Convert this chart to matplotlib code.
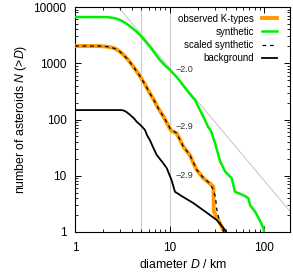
import matplotlib
matplotlib.use("Agg")
import matplotlib.pyplot as plt
import numpy as np

plt.rcParams['font.family'] = ['Liberation Sans', 'DejaVu Sans']
plt.rcParams['mathtext.fontset'] = 'custom'
plt.rcParams['mathtext.rm'] = 'Liberation Sans'
plt.rcParams['mathtext.it'] = 'Liberation Sans:italic'

# observed K-types (cumulative)
d_obs = [1, 1.8, 2.1, 2.4, 2.7, 3.0, 3.3, 3.66, 4.14, 4.87, 5.5, 6.2, 6.9, 7.6, 8.3,
         8.97, 10.1, 10.6, 11.9, 14.0, 16.5, 17.9, 19.4, 22.8, 27.9, 29.1, 29.4,
         32.9, 37.1, 38.6]
n_obs = [2030, 2020, 1990, 1920, 1800, 1600, 1380, 1142, 868, 590, 420, 292, 215, 158, 125,
         100, 68, 62, 57, 33, 23, 16.6, 12.7, 9.0, 6.85, 6.4, 2.3,
         1.63, 1.08, 1.0]

# synthetic
d_syn = [1, 2.0, 2.3, 2.6, 2.9, 3.2, 3.66, 4.2, 4.87, 5.5, 6.2, 7.0, 7.9, 8.9, 10.1,
         12.0, 15.2, 17.9, 18.6, 21.0, 22.8, 25.5, 27.5, 30.3, 34.3, 38.6, 45.5,
         49.2, 60.5, 68.2, 71.1, 80.3, 90.4, 98.6, 100]
n_syn = [6640, 6620, 6550, 6350, 6000, 5550, 4790, 4000, 3180, 2500, 1970, 1500, 1142, 920, 760,
         560, 334, 238, 222, 147, 112, 75, 62, 38, 18, 12, 9.0,
         5.2, 4.5, 4.0, 3.0, 2.3, 1.6, 1.15, 1.0]

# scaled synthetic
d_scl = [1, 1.8, 2.1, 2.4, 2.7, 3.0, 3.3, 3.66, 4.14, 4.87, 5.5, 6.2, 6.9, 7.6, 8.3,
         8.97, 10.1, 11.9, 14.0, 16.5, 19.4, 22.0, 25.5, 28.5, 30.6, 31.6, 34.0, 37.5]
n_scl = [2030, 2020, 1990, 1920, 1800, 1600, 1380, 1142, 868, 590, 420, 292, 215, 158, 125,
         100, 70, 57, 33, 23, 12.7, 9.8, 7.8, 6.0, 4.2, 2.5, 1.5, 1.0]

# background
d_bg = [1, 3.1, 3.3, 3.5, 3.8, 4.2, 4.5, 5.0, 5.5, 5.8, 6.2, 6.7, 7.32, 8.53, 9.33,
        10.5, 11.4, 13.9, 17.7, 24.8, 31.6, 38.7, 39.5]
n_bg = [147, 147, 144, 136, 122, 105, 91, 78, 65, 52, 43, 32, 23.4, 16.9, 13.7,
        8.4, 5.2, 4.2, 3.3, 2.2, 1.63, 1.08, 1.0]

# power-law slope -2 reference line
slope = -2.0
norm = 82400
d_ref = np.array([1, 200])

fig = plt.figure(figsize=(2.93, 2.73), dpi=100)
ax = fig.add_axes([75/293, (273-232)/273, 215/293, 225/273])

ax.axvline(5, color='#cccccc', lw=0.8, zorder=1)
ax.axvline(10, color='#cccccc', lw=0.8, zorder=1)
ax.plot(d_ref, norm * d_ref**slope, color='#bbbbbb', lw=0.6, zorder=1)

ax.plot(d_obs, n_obs, color='#ff9a00', lw=2.8, label='observed K-types', zorder=3)
ax.plot(d_syn, n_syn, color='#00ee00', lw=1.8, label='synthetic', zorder=3)
ax.plot(d_scl, n_scl, color='black', lw=0.9, ls=(0, (3, 3)), label='scaled synthetic', zorder=4)
ax.plot(d_bg, n_bg, color='black', lw=1.3, label='background', zorder=3)

ax.text(11.7, 760, '\u22122.0', fontsize=6.5, color='#333333', va='center')
ax.text(11.7, 74, '\u22122.9', fontsize=6.5, color='#333333', va='center')
ax.text(11.7, 10.3, '\u22122.9', fontsize=6.5, color='#333333', va='center')

ax.set_xscale('log')
ax.set_yscale('log')
ax.set_xlim(1, 188)
ax.set_ylim(1, 10000)
ax.set_xticks([1, 10, 100])
ax.set_xticklabels(['1', '10', '100'])
ax.set_yticks([1, 10, 100, 1000, 10000])
ax.set_yticklabels(['1', '10', '100', '1000', '10000'])
ax.tick_params(which='both', direction='in', top=True, right=True, labelsize=8.5)
ax.tick_params(axis='x', pad=7)
ax.tick_params(axis='y', pad=6)
ax.tick_params(which='major', length=4.5, width=0.7)
ax.tick_params(which='minor', length=2.5, width=0.6)
for s in ax.spines.values():
    s.set_linewidth(0.8)

ax.set_xlabel(r'diameter $D$ / km', fontsize=8.8, labelpad=3)
ax.set_ylabel(r'number of asteroids $N$ (>$D$)', fontsize=8.8, labelpad=3)

ax.legend(loc='upper right', bbox_to_anchor=(0.94, 0.97), frameon=False, markerfirst=False,
          fontsize=7, borderpad=0, borderaxespad=0, labelspacing=0.32,
          handlelength=1.6, handletextpad=0.8)

fig.savefig('out.png', dpi=100)
